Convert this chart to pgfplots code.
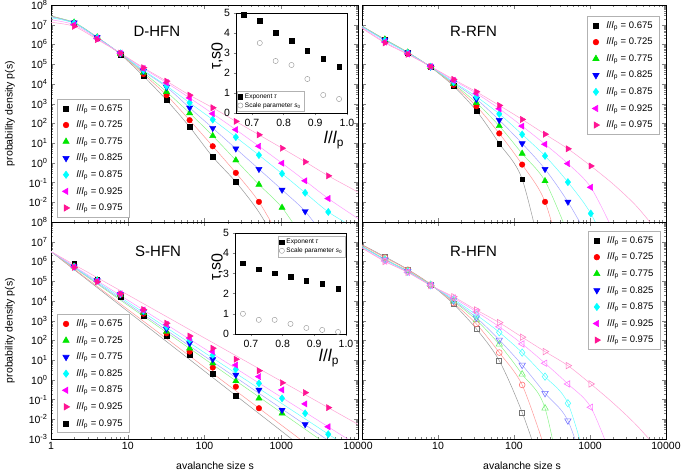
\documentclass[border=0pt]{standalone}
\usepackage{fontspec}
\setmainfont{Liberation Sans}
\usepackage{pgfplots}
\pgfplotsset{compat=1.18}
\usepackage{pgfplotstable}

\definecolor{cA}{RGB}{0,0,0}
\definecolor{cB}{RGB}{255,0,0}
\definecolor{cC}{RGB}{0,230,0}
\definecolor{cD}{RGB}{0,0,255}
\definecolor{cE}{RGB}{0,255,255}
\definecolor{cF}{RGB}{255,0,255}
\definecolor{cG}{RGB}{255,20,147}

\pgfplotsset{
 sA/.style={color=cA, mark=square*, mark size=2.4pt},
 sB/.style={color=cB, mark=*, mark size=2.8pt},
 sC/.style={color=cC, mark=triangle*, mark size=3.6pt},
 sD/.style={color=cD, mark=triangle*, mark size=3.6pt, mark options={rotate=180}},
 sE/.style={color=cE, mark=diamond*, mark size=3.6pt},
 sF/.style={color=cF, mark=triangle*, mark size=3.6pt, mark options={rotate=90}},
 sG/.style={color=cG, mark=triangle*, mark size=3.6pt, mark options={rotate=-90}},
 oA/.style={color=cA!55, mark=square, mark size=2.5pt, mark options={line width=0.6pt}},
 oB/.style={color=cB!55, mark=o, mark size=2.9pt, mark options={line width=0.6pt}},
 oC/.style={color=cC!55, mark=triangle, mark size=3.7pt, mark options={line width=0.6pt}},
 oD/.style={color=cD!55, mark=triangle, mark size=3.7pt, mark options={rotate=180,line width=0.6pt}},
 oE/.style={color=cE!70, mark=diamond, mark size=3.7pt, mark options={line width=0.6pt}},
 oF/.style={color=cF!55, mark=triangle, mark size=3.7pt, mark options={rotate=90,line width=0.6pt}},
 oG/.style={color=cG!55, mark=triangle, mark size=3.7pt, mark options={rotate=-90,line width=0.6pt}},
 lA/.style={draw=cA!40, line width=0.5pt},
 lB/.style={draw=cB!40, line width=0.5pt},
 lC/.style={draw=cC!45, line width=0.5pt},
 lD/.style={draw=cD!35, line width=0.5pt},
 lE/.style={draw=cE!60, line width=0.5pt},
 lF/.style={draw=cF!40, line width=0.5pt},
 lG/.style={draw=cG!40, line width=0.5pt},
 tauS/.style={only marks, mark=square*, mark size=2.3pt, color=black},
 s0S/.style={only marks, mark=o, mark size=2.6pt, color=gray!85},
}

% ---------------- D-HFN
\pgfplotstableread{
s A B C D E F G
2 1.20e7 1.26e7 1.32e7 1.26e7 1.20e7 1.0e7 8.3e6
4 2.29e6 2.29e6 2.34e6 2.29e6 2.19e6 2.0e6 1.78e6
8 3.16e5 3.31e5 3.39e5 3.47e5 3.55e5 3.63e5 3.63e5
16 2.51e4 3.16e4 3.80e4 4.47e4 5.01e4 6.03e4 6.61e4
32 1.51e3 2.69e3 3.98e3 6.92e3 7.94e3 1.15e4 1.38e4
64 66.1 145 331 617 1100 1950 2690
128 2.0 6.92 23.4 57.5 155 309 617
256 0.107 0.309 1.35 5.25 20.0 47.9 126
512 nan 0.0105 0.0794 0.479 2.45 6.92 26.3
1024 nan nan 0.00537 0.0427 0.282 0.955 5.50
2048 nan nan nan 0.00347 0.0302 0.123 1.12
4096 nan nan nan nan 0.00324 0.0155 0.219
}\tldata
\pgfplotstableread{
s A B C D E F G
1 2.82e7 2.69e7 2.63e7 2.51e7 2.24e7 1.78e7 1.32e7
2 1.20e7 1.26e7 1.32e7 1.26e7 1.20e7 1.0e7 8.3e6
4 2.29e6 2.29e6 2.34e6 2.29e6 2.19e6 2.0e6 1.78e6
8 3.16e5 3.31e5 3.39e5 3.47e5 3.55e5 3.63e5 3.63e5
16 2.51e4 3.16e4 3.80e4 4.47e4 5.01e4 6.03e4 6.61e4
32 1.51e3 2.69e3 3.98e3 6.92e3 7.94e3 1.15e4 1.38e4
64 66.1 145 331 617 1100 1950 2690
128 2.0 6.92 23.4 57.5 155 309 617
256 0.107 0.309 1.35 5.25 20.0 47.9 126
512 3.16e-3 0.0105 0.0794 0.479 2.45 6.92 26.3
1024 3.16e-5 1e-4 0.00537 0.0427 0.282 0.955 5.50
2048 nan nan 1e-4 0.00347 0.0302 0.123 1.12
4096 nan nan nan 1e-4 0.00324 0.0155 0.219
8192 nan nan nan nan 6.31e-4 2.5e-3 0.050
16384 nan nan nan nan nan 4e-4 0.0112
}\tlline

% ---------------- R-RFN
\pgfplotstableread{
s A B C D E F G
2 1.78e6 1.78e6 1.82e6 1.70e6 1.58e6 1.32e6 1.20e6
4 3.98e5 3.98e5 3.98e5 3.80e5 3.72e5 3.31e5 3.16e5
8 7.08e4 7.24e4 7.24e4 7.41e4 7.41e4 7.59e4 7.59e4
16 7.76e3 8.91e3 1.0e4 1.15e4 1.26e4 1.51e4 1.70e4
32 437 741 1100 1700 2240 3310 3980
64 9.55 30.9 74.1 145 302 550 813
128 0.148 0.813 2.95 9.55 27.5 72.4 158
256 nan 0.0105 0.120 0.479 2.24 8.71 28.2
512 nan nan nan 0.0105 0.105 0.912 5.13
1024 nan nan nan nan 0.00269 0.0575 0.692
}\trdata
\pgfplotstableread{
s A B C D E F G
1 8.51e6 8.51e6 8.32e6 8.13e6 7.94e6 7.24e6 6.61e6
2 1.78e6 1.78e6 1.82e6 1.70e6 1.58e6 1.32e6 1.20e6
4 3.98e5 3.98e5 3.98e5 3.80e5 3.72e5 3.31e5 3.16e5
8 7.08e4 7.24e4 7.24e4 7.41e4 7.41e4 7.59e4 7.59e4
16 7.76e3 8.91e3 1.0e4 1.15e4 1.26e4 1.51e4 1.70e4
32 437 741 1100 1700 2240 3310 3980
64 9.55 30.9 74.1 145 302 550 813
128 0.148 0.813 2.95 9.55 27.5 72.4 158
256 3.16e-6 0.0105 0.120 0.479 2.24 8.71 28.2
512 nan 1e-6 2.51e-4 0.0105 0.105 0.912 5.13
1024 nan nan nan 1e-4 0.00269 0.0575 0.692
2048 nan nan nan nan 1e-5 3.16e-4 0.0794
4096 nan nan nan nan nan nan 6.31e-3
8192 nan nan nan nan nan nan 2.51e-4
}\trline

% ---------------- S-HFN
\pgfplotstableread{
s A B C D E F G
2 8.13e5 5.75e5 5.62e5 5.50e5 5.37e5 5.25e5 5.01e5
4 1.23e5 1.12e5 1.12e5 1.10e5 1.07e5 1.0e5 9.33e4
8 1.62e4 2.0e4 2.09e4 2.14e4 2.19e4 2.29e4 2.29e4
16 1.74e3 2.24e3 2.51e3 2.82e3 3.16e3 3.47e3 3.63e3
32 166 229 275 380 490 631 741
64 18.2 26.9 39.8 70.8 105 132 166
128 2.0 4.17 6.92 11.0 18.2 26.9 39.8
256 0.158 0.447 0.871 1.78 3.39 5.62 11.0
512 nan 0.0363 0.115 0.309 0.661 1.45 2.88
1024 nan nan 0.0200 0.0295 0.115 0.309 0.708
2048 nan nan nan 0.00550 0.0200 0.0603 0.224
4096 nan nan nan nan 0.00174 0.00417 0.0389
}\bldata
\pgfplotstableread{
s A B C D E F G
1 3.16e6 3.16e6 3.16e6 3.16e6 3.16e6 3.16e6 3.16e6
10000 2.4e-6 6.0e-6 4.2e-5 7.9e-5 1.8e-4 4.6e-4 5.5e-3
}\blline

% ---------------- R-HFN
\pgfplotstableread{
s A B C D E F G
2 1.74e6 1.58e6 1.32e6 1.26e6 1.20e6 1.05e6 1.0e6
4 3.98e5 3.80e5 3.31e5 3.16e5 3.02e5 2.82e5 2.82e5
8 6.92e4 6.76e4 6.61e4 6.31e4 6.31e4 6.17e4 6.03e4
16 6.92e3 7.94e3 9.55e3 1.05e4 1.20e4 1.41e4 1.62e4
32 380 676 1070 1410 1950 2820 3470
64 9.33 24.0 63.1 105 257 490 794
128 0.0224 0.550 1.91 5.62 24.0 66.1 145
256 nan nan 0.0363 0.209 1.45 6.92 26.9
512 nan nan nan 0.00851 0.0646 0.617 5.25
1024 nan nan nan nan nan 0.0407 0.617
}\brdata
\pgfplotstableread{
s A B C D E F G
1 7.08e6 6.76e6 6.03e6 5.75e6 5.50e6 5.01e6 4.79e6
2 1.74e6 1.58e6 1.32e6 1.26e6 1.20e6 1.05e6 1.0e6
4 3.98e5 3.80e5 3.31e5 3.16e5 3.02e5 2.82e5 2.82e5
8 6.92e4 6.76e4 6.61e4 6.31e4 6.31e4 6.17e4 6.03e4
16 6.92e3 7.94e3 9.55e3 1.05e4 1.20e4 1.41e4 1.62e4
32 380 676 1070 1410 1950 2820 3470
64 9.33 24.0 63.1 105 257 490 794
128 0.0224 0.550 1.91 5.62 24.0 66.1 145
256 1e-5 3.16e-4 0.0363 0.209 1.45 6.92 26.9
512 nan nan 1e-7 0.00851 0.0646 0.617 5.25
1024 nan nan nan 3.16e-6 1e-5 0.0407 0.617
2048 nan nan nan nan nan 6.31e-5 0.063
4096 nan nan nan nan nan nan 5.0e-3
8192 nan nan nan nan nan nan 2.51e-4
}\brline

% ---------------- insets
\pgfplotstableread{
x tau s0
0.675 4.9 nan
0.725 4.6 3.5
0.775 4.0 2.6
0.825 3.6 2.4
0.875 3.1 1.7
0.925 2.7 0.9
0.975 2.3 0.7
}\insetD
\pgfplotstableread{
x tau s0
0.675 3.5 1.0
0.725 3.2 0.7
0.775 3.0 0.7
0.825 2.85 0.5
0.875 2.65 0.3
0.925 2.5 0.2
0.975 2.25 0.1
}\insetS

\newcommand\lpl{\textit{l}/\textit{l}\textsubscript{p}}

\begin{document}
\begin{tikzpicture}
\useasboundingbox (0,0) rectangle (685pt,473pt);

% ===== top left
\begin{axis}[scale only axis, anchor=south west, xmode=log, ymode=log,
  xmin=1, xmax=10000, ymin=1e-3, ymax=1e8,
  xtick={1,10,100,1000,10000},
  ytick={1e-3,1e-2,1e-1,1,10,100,1000,1e4,1e5,1e6,1e7,1e8},
  tick label style={font=\fontsize{10.5}{12}\selectfont},
  axis line style={line width=0.8pt},
  major tick length=4pt, minor tick length=2pt,
  legend cell align=left,
  legend style={font=\fontsize{9.5}{11}\selectfont, draw=gray!60, line width=0.6pt,
     inner xsep=5pt, inner ysep=3pt, row sep=4.2pt,
     /tikz/every odd column/.append style={column sep=5pt},
     at={(rel axis cs:0.02,0.567)}, anchor=north west},
  at={(51pt,251pt)}, width=307pt, height=217pt,
  xticklabels={},
  yticklabels={{},10\textsuperscript{-2},10\textsuperscript{-1},10\textsuperscript{0},10\textsuperscript{1},10\textsuperscript{2},10\textsuperscript{3},10\textsuperscript{4},10\textsuperscript{5},10\textsuperscript{6},10\textsuperscript{7},10\textsuperscript{8}}]
\pgfplotsinvokeforeach{A,B,C,D,E,F,G}{\addplot[forget plot, smooth, no markers, l#1] table[x=s,y=#1]{\tlline};}
\pgfplotsinvokeforeach{A,B,C,D,E,F,G}{\addplot[forget plot, only marks, s#1] table[x=s,y=#1]{\tldata};}
\addlegendimage{only marks, sA}\addlegendentry{\lpl{} = 0.675}
\addlegendimage{only marks, sB}\addlegendentry{\lpl{} = 0.725}
\addlegendimage{only marks, sC}\addlegendentry{\lpl{} = 0.775}
\addlegendimage{only marks, sD}\addlegendentry{\lpl{} = 0.825}
\addlegendimage{only marks, sE}\addlegendentry{\lpl{} = 0.875}
\addlegendimage{only marks, sF}\addlegendentry{\lpl{} = 0.925}
\addlegendimage{only marks, sG}\addlegendentry{\lpl{} = 0.975}
\node[font=\fontsize{15}{18}\selectfont] at (rel axis cs:0.345,0.88) {D-HFN};
\end{axis}

\begin{axis}[scale only axis, anchor=south west,
  xmin=0.65, xmax=1.0, ymin=0, ymax=5,
  xtick={0.7,0.8,0.9,1.0}, xticklabels={0.7,0.8,0.9,1.0},
  ytick={0,1,2,3,4,5}, yticklabels={0,1,2,3,4,5},
  tick align=outside, xtick pos=bottom, ytick pos=left,
  major tick length=2.5pt,
  axis background/.style={fill=white},
  tick label style={font=\fontsize{10.5}{12}\selectfont},
  axis line style={line width=0.6pt},
  legend cell align=left,
  legend style={font=\fontsize{6.5}{7.5}\selectfont, draw=gray!60, inner sep=1pt, row sep=-1.5pt,
    at={(rel axis cs:0.005,0.012)}, anchor=south west},
  at={(236pt,360pt)}, width=111pt, height=100pt]
\addplot[tauS] table[x=x,y=tau]{\insetD};
\addlegendentry{Exponent \textit{τ}}
\addplot[s0S] table[x=x,y=s0]{\insetD};
\addlegendentry{Scale parameter \textit{s}\textsubscript{0}}
\end{axis}

% ===== top right
\begin{axis}[scale only axis, anchor=south west, xmode=log, ymode=log,
  xmin=1, xmax=10000, ymin=1e-3, ymax=1e8,
  xtick={1,10,100,1000,10000},
  ytick={1e-3,1e-2,1e-1,1,10,100,1000,1e4,1e5,1e6,1e7,1e8},
  tick label style={font=\fontsize{10.5}{12}\selectfont},
  axis line style={line width=0.8pt},
  major tick length=4pt, minor tick length=2pt,
  legend cell align=left,
  legend style={font=\fontsize{9.5}{11}\selectfont, draw=gray!60, line width=0.6pt,
     inner xsep=5pt, inner ysep=3pt, row sep=4.2pt,
     /tikz/every odd column/.append style={column sep=5pt},
     at={(rel axis cs:0.98,0.949)}, anchor=north east},
  at={(362pt,251pt)}, width=304pt, height=217pt,
  xticklabels={}, yticklabels={}]
\pgfplotsinvokeforeach{A,B,C,D,E,F,G}{\addplot[forget plot, smooth, no markers, l#1] table[x=s,y=#1]{\trline};}
\pgfplotsinvokeforeach{A,B,C,D,E,F,G}{\addplot[forget plot, only marks, s#1] table[x=s,y=#1]{\trdata};}
\addlegendimage{only marks, sA}\addlegendentry{\lpl{} = 0.675}
\addlegendimage{only marks, sB}\addlegendentry{\lpl{} = 0.725}
\addlegendimage{only marks, sC}\addlegendentry{\lpl{} = 0.775}
\addlegendimage{only marks, sD}\addlegendentry{\lpl{} = 0.825}
\addlegendimage{only marks, sE}\addlegendentry{\lpl{} = 0.875}
\addlegendimage{only marks, sF}\addlegendentry{\lpl{} = 0.925}
\addlegendimage{only marks, sG}\addlegendentry{\lpl{} = 0.975}
\node[font=\fontsize{15}{18}\selectfont] at (rel axis cs:0.367,0.88) {R-RFN};
\end{axis}

% ===== bottom left
\begin{axis}[scale only axis, anchor=south west, xmode=log, ymode=log,
  xmin=1, xmax=10000, ymin=1e-3, ymax=1e8,
  xtick={1,10,100,1000,10000},
  ytick={1e-3,1e-2,1e-1,1,10,100,1000,1e4,1e5,1e6,1e7,1e8},
  tick label style={font=\fontsize{10.5}{12}\selectfont},
  axis line style={line width=0.8pt},
  major tick length=4pt, minor tick length=2pt,
  legend cell align=left,
  legend style={font=\fontsize{9.5}{11}\selectfont, draw=gray!60, line width=0.6pt,
     inner xsep=5pt, inner ysep=3pt, row sep=4.2pt,
     /tikz/every odd column/.append style={column sep=5pt},
     at={(rel axis cs:0.02,0.574)}, anchor=north west},
  at={(51pt,34pt)}, width=307pt, height=217pt,
  xticklabels={1,10,100,1000,10000},
  yticklabels={10\textsuperscript{-3},10\textsuperscript{-2},10\textsuperscript{-1},10\textsuperscript{0},10\textsuperscript{1},10\textsuperscript{2},10\textsuperscript{3},10\textsuperscript{4},10\textsuperscript{5},10\textsuperscript{6},10\textsuperscript{7},10\textsuperscript{8}}]
\pgfplotsinvokeforeach{A,B,C,D,E,F,G}{\addplot[forget plot, no markers, l#1] table[x=s,y=#1]{\blline};}
\pgfplotsinvokeforeach{A,B,C,D,E,F,G}{\addplot[forget plot, only marks, s#1] table[x=s,y=#1]{\bldata};}
\addlegendimage{only marks, sB}\addlegendentry{\lpl{} = 0.675}
\addlegendimage{only marks, sC}\addlegendentry{\lpl{} = 0.725}
\addlegendimage{only marks, sD}\addlegendentry{\lpl{} = 0.775}
\addlegendimage{only marks, sE}\addlegendentry{\lpl{} = 0.825}
\addlegendimage{only marks, sF}\addlegendentry{\lpl{} = 0.875}
\addlegendimage{only marks, sG}\addlegendentry{\lpl{} = 0.925}
\addlegendimage{only marks, sA}\addlegendentry{\lpl{} = 0.975}
\node[font=\fontsize{15}{18}\selectfont] at (rel axis cs:0.349,0.866) {S-HFN};
\end{axis}

\begin{axis}[scale only axis, anchor=south west,
  xmin=0.65, xmax=1.0, ymin=0, ymax=5,
  xtick={0.7,0.8,0.9,1.0}, xticklabels={0.7,0.8,0.9,1.0},
  ytick={0,1,2,3,4,5}, yticklabels={0,1,2,3,4,5},
  tick align=outside, xtick pos=bottom, ytick pos=left,
  major tick length=2.5pt,
  axis background/.style={fill=white},
  tick label style={font=\fontsize{10.5}{12}\selectfont},
  axis line style={line width=0.6pt},
  legend cell align=left,
  legend style={font=\fontsize{6.5}{7.5}\selectfont, draw=gray!60, inner sep=1pt, row sep=-1.5pt,
    at={(rel axis cs:0.995,0.97)}, anchor=north east},
  at={(235pt,139pt)}, width=111pt, height=101pt]
\addplot[tauS] table[x=x,y=tau]{\insetS};
\addlegendentry{Exponent \textit{τ}}
\addplot[s0S] table[x=x,y=s0]{\insetS};
\addlegendentry{Scale parameter \textit{s}\textsubscript{0}}
\end{axis}

% ===== bottom right
\begin{axis}[scale only axis, anchor=south west, xmode=log, ymode=log,
  xmin=1, xmax=10000, ymin=1e-3, ymax=1e8,
  xtick={1,10,100,1000,10000},
  ytick={1e-3,1e-2,1e-1,1,10,100,1000,1e4,1e5,1e6,1e7,1e8},
  tick label style={font=\fontsize{10.5}{12}\selectfont},
  axis line style={line width=0.8pt},
  major tick length=4pt, minor tick length=2pt,
  legend cell align=left,
  legend style={font=\fontsize{9.5}{11}\selectfont, draw=gray!60, line width=0.6pt,
     inner xsep=5pt, inner ysep=3pt, row sep=4.2pt,
     /tikz/every odd column/.append style={column sep=5pt},
     at={(rel axis cs:0.983,0.958)}, anchor=north east},
  at={(362pt,34pt)}, width=304pt, height=217pt,
  xticklabels={{},10,100,1000,10000}, yticklabels={}]
\pgfplotsinvokeforeach{A,B,C,D,E,F,G}{\addplot[forget plot, smooth, no markers, l#1] table[x=s,y=#1]{\brline};}
\pgfplotsinvokeforeach{A,B,C,D,E,F,G}{\addplot[forget plot, only marks, o#1] table[x=s,y=#1]{\brdata};}
\addlegendimage{only marks, sA}\addlegendentry{\lpl{} = 0.675}
\addlegendimage{only marks, sB}\addlegendentry{\lpl{} = 0.725}
\addlegendimage{only marks, sC}\addlegendentry{\lpl{} = 0.775}
\addlegendimage{only marks, sD}\addlegendentry{\lpl{} = 0.825}
\addlegendimage{only marks, sE}\addlegendentry{\lpl{} = 0.875}
\addlegendimage{only marks, sF}\addlegendentry{\lpl{} = 0.925}
\addlegendimage{only marks, sG}\addlegendentry{\lpl{} = 0.975}
\node[font=\fontsize{15}{18}\selectfont] at (rel axis cs:0.367,0.866) {R-HFN};
\end{axis}

% ===== labels
\node[rotate=90, font=\fontsize{10.5}{12}\selectfont] at (10pt,359.5pt) {probability density p(s)};
\node[rotate=90, font=\fontsize{10.5}{12}\selectfont] at (10pt,142.5pt) {probability density p(s)};
\node[font=\fontsize{10.5}{12}\selectfont] at (215pt,7pt) {avalanche size s};
\node[font=\fontsize{10.5}{12}\selectfont] at (522pt,7pt) {avalanche size s};
\node[font=\fontsize{17}{20}\selectfont] at (334pt,333pt) {\textit{l}/\textit{l}\textsubscript{p}};
\node[font=\fontsize{17}{20}\selectfont] at (329pt,115pt) {\textit{l}/\textit{l}\textsubscript{p}};
\node[rotate=90, font=\fontsize{16}{19}\selectfont] at (217pt,417pt) {τ,s\raisebox{-2pt}{0}};
\node[rotate=90, font=\fontsize{16}{19}\selectfont] at (217pt,206pt) {τ,s\raisebox{-2pt}{0}};
\end{tikzpicture}
\end{document}
